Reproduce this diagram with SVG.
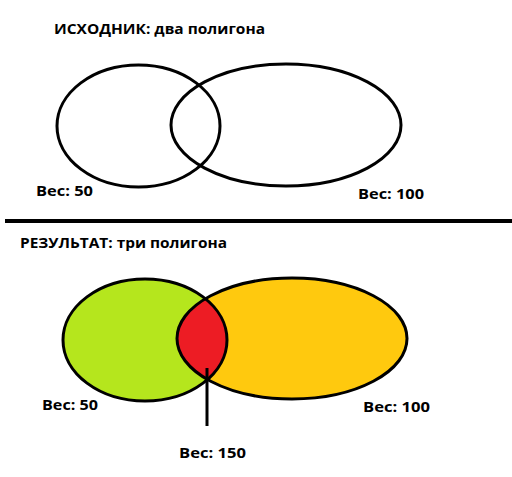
<svg xmlns="http://www.w3.org/2000/svg" width="512" height="477" viewBox="0 0 512 477">
<style>
text{font-family:"Open Sans","Liberation Sans",sans-serif;font-weight:bold;font-size:15px;fill:#000}
.o{fill:none;stroke:#000;stroke-width:3}
</style>
<defs>
<clipPath id="cg"><ellipse cx="145" cy="340" rx="82" ry="61"/></clipPath>
</defs>
<rect width="512" height="477" fill="#fff"/>
<g id="source">
<text x="54" y="34" textLength="211" lengthAdjust="spacingAndGlyphs">ИСХОДНИК: два полигона</text>
<g id="src-poly-50">
<ellipse class="o" cx="138.5" cy="126" rx="81.5" ry="61"/>
<text x="36" y="196" textLength="57" lengthAdjust="spacingAndGlyphs">Вес: 50</text>
</g>
<g id="src-poly-100">
<ellipse class="o" cx="286" cy="125" rx="115" ry="61"/>
<text x="358" y="199" textLength="66" lengthAdjust="spacingAndGlyphs">Вес: 100</text>
</g>
</g>
<line x1="5" y1="221" x2="512" y2="221" stroke="#000" stroke-width="4"/>
<g id="result">
<text x="20" y="248" textLength="207" lengthAdjust="spacingAndGlyphs">РЕЗУЛЬТАТ: три полигона</text>
<g id="res-poly-50">
<ellipse cx="145" cy="340" rx="82" ry="61" fill="#b5e61d"/>
<text x="42" y="410" textLength="56" lengthAdjust="spacingAndGlyphs">Вес: 50</text>
</g>
<g id="res-poly-100">
<ellipse cx="292" cy="338.5" rx="115" ry="60.5" fill="#ffc90e"/>
<text x="363" y="412" textLength="67" lengthAdjust="spacingAndGlyphs">Вес: 100</text>
</g>
<g id="res-poly-150">
<ellipse cx="292" cy="338.5" rx="115" ry="60.5" fill="#ed1c24" clip-path="url(#cg)"/>
<text x="179" y="458" textLength="67" lengthAdjust="spacingAndGlyphs">Вес: 150</text>
</g>
<ellipse class="o" cx="145" cy="340" rx="82" ry="61"/>
<ellipse class="o" cx="292" cy="338.5" rx="115" ry="60.5"/>
</g>
<g id="connectors">
<line x1="207" y1="368" x2="207" y2="426" stroke="#000" stroke-width="3"/>
</g>
</svg>
